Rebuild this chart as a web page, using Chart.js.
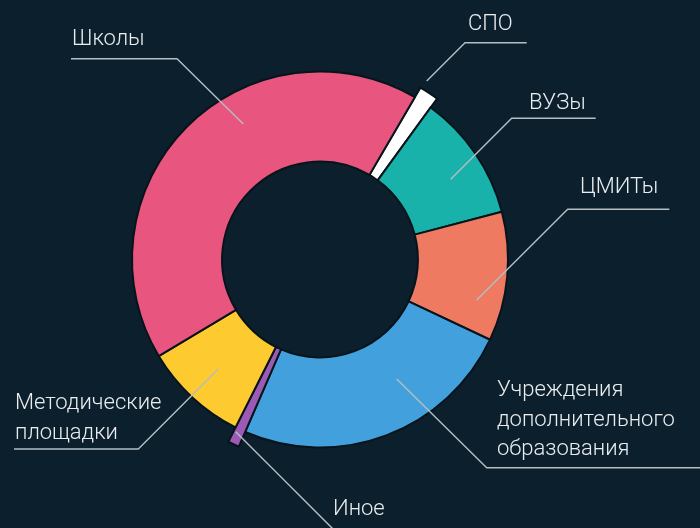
<!DOCTYPE html>
<html>
<head>
<meta charset="utf-8">
<script src="https://cdn.jsdelivr.net/npm/chart.js@4/dist/chart.umd.min.js"></script>
<style>
  html, body { margin: 0; padding: 0; background: #0c1f2c; }
  #wrap { width: 700px; height: 528px; position: relative; }
</style>
</head>
<body>
<div id="wrap"><canvas id="c" width="700" height="528"></canvas></div>
<script>
// ---- data ----
const categories = ['СПО', 'ВУЗы', 'ЦМИТы', 'Учреждения дополнительного образования', 'Иное', 'Методические площадки', 'Школы'];
const values = [1.6, 10.9, 11.1, 24.5, 0.9, 9, 42.0];

// ---- styles (separate from data) ----
const sliceColors = ['#ffffff', '#19b2ab', '#ee7a62', '#42a1dd', '#9b5bb5', '#fdca30', '#e8557f'];
const sliceExtension = [11, 0, 0, 0, 16, 0, 0];

// ---- annotation layout (label text lines + leader polyline) ----
const labelLayout = [
  { lines: ['СПО'], x: 468, y: 30, path: [[526.7, 42.7], [465, 42.7], [426.7, 81]] },
  { lines: ['ВУЗы'], x: 529, y: 109, path: [[595.7, 118.3], [511.7, 118.3], [450.7, 179.3]] },
  { lines: ['ЦМИТы'], x: 580, y: 193, path: [[669.3, 209.3], [567.7, 209.3], [476.7, 300]] },
  { lines: ['Учреждения', 'дополнительного', 'образования'], x: 497, y: 396, path: [[700, 467.7], [486.7, 467.7], [396.7, 379]] },
  { lines: ['Иное'], x: 333, y: 515, path: [[235.7, 431.7], [352, 548]] },
  { lines: ['Методические', 'площадки'], x: 15, y: 409, path: [[14, 449], [138.3, 449], [218.3, 369]] },
  { lines: ['Школы'], x: 72, y: 45, path: [[71, 58.7], [177, 58.7], [243.3, 124]] }
];

const extendPlugin = {
  id: 'extendSlices',
  afterDatasetsUpdate(chart) {
    const meta = chart.getDatasetMeta(0);
    meta.data.forEach((arc, i) => {
      if (sliceExtension[i]) arc.outerRadius += sliceExtension[i];
    });
  }
};

const labelPlugin = {
  id: 'leaderLabels',
  afterDraw(chart) {
    const ctx = chart.ctx;
    ctx.save();
    ctx.strokeStyle = '#b4bec3';
    ctx.lineWidth = 1.4;
    labelLayout.forEach(l => {
      ctx.beginPath();
      l.path.forEach((p, k) => k ? ctx.lineTo(p[0], p[1]) : ctx.moveTo(p[0], p[1]));
      ctx.stroke();
    });
    ctx.fillStyle = '#e9edef';
    ctx.font = '300 22px Roboto, "Open Sans", sans-serif';
    ctx.textBaseline = 'alphabetic';
    ctx.textAlign = 'left';
    labelLayout.forEach((l) => {
      l.lines.forEach((t, k) => ctx.fillText(t, l.x, l.y + k * 29.5));
    });
    ctx.restore();
  }
};

new Chart(document.getElementById('c'), {
  type: 'doughnut',
  data: {
    labels: categories,
    datasets: [{
      data: values,
      backgroundColor: sliceColors,
      borderColor: '#08141c',
      borderWidth: 2,
      borderJoinStyle: 'miter'
    }]
  },
  options: {
    responsive: false,
    animation: false,
    events: [],
    rotation: 30.3,
    radius: 188,
    cutout: '52.1%',
    layout: { padding: { left: 0, right: 60, top: 0, bottom: 9 } },
    plugins: {
      legend: { display: false },
      tooltip: { enabled: false }
    }
  },
  plugins: [extendPlugin, labelPlugin]
});
</script>
</body>
</html>
